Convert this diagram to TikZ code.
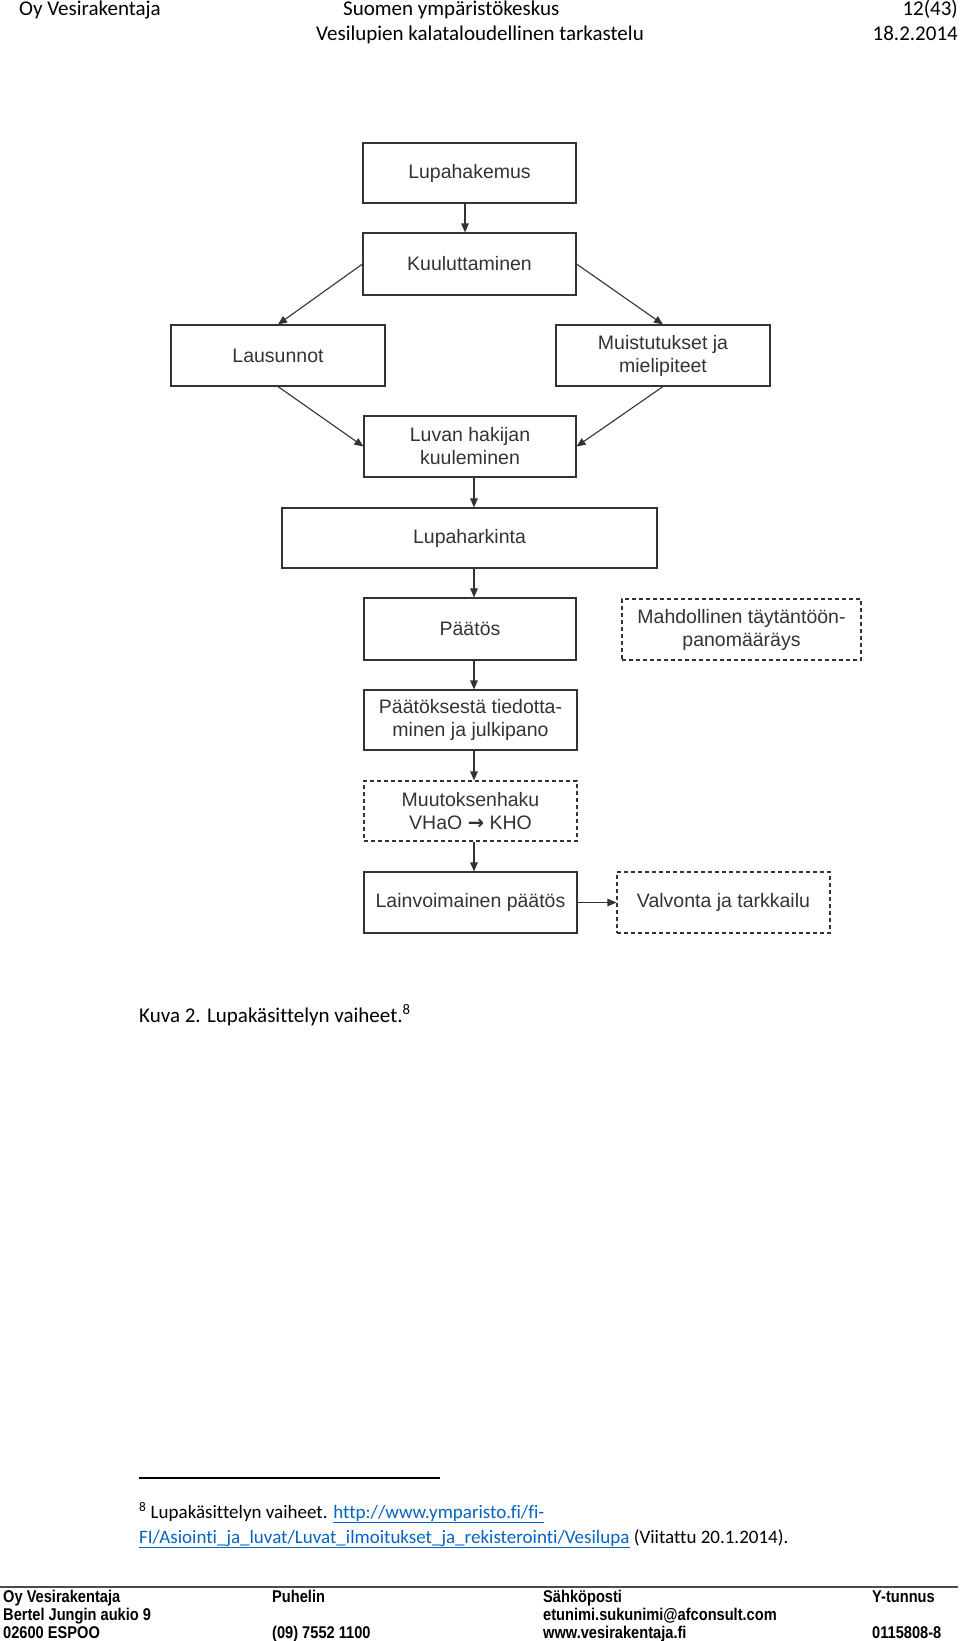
\documentclass[tikz,border=0pt]{standalone}
\usepackage{fontspec}
\setmainfont[Ligatures=NoCommon]{Carlito}
\newfontfamily\boxfont{Liberation Sans}
\newfontfamily\footfont[FakeStretch=0.86]{Liberation Sans}
\newfontfamily\symfont{DejaVu Sans}
\usetikzlibrary{arrows.meta}
\definecolor{linkblue}{HTML}{0563C1}
\definecolor{boxgray}{HTML}{333333}
\begin{document}
\begin{tikzpicture}[x=1pt,y=-1pt,
  stepbox/.style={draw=boxgray, line width=1.1pt, inner sep=0pt, align=center,
    text=boxgray, font=\boxfont\fontsize{19.5}{23}\selectfont},
  dbox/.style={stepbox, dash pattern=on 4pt off 3pt},
  conn/.style={draw=boxgray, line width=1.1pt, -{Triangle[length=9pt,width=7.5pt]}},
  hdr/.style={inner sep=0pt, font=\fontsize{21}{25}\selectfont},
  ftr/.style={inner sep=0pt, anchor=base west, font=\footfont\bfseries\fontsize{17}{19}\selectfont}
]
\useasboundingbox (0,0) rectangle (960,1641);

% header
\node[hdr, anchor=base west] (h1) at (19,15) {Oy Vesirakentaja};
\node[hdr, anchor=base west] (h2) at (343,15) {Suomen ympäristökeskus};
\node[hdr, anchor=base east] (h3) at (958,15) {12(43)};
\node[hdr, anchor=base west] (h4) at (316,40) {Vesilupien kalataloudellinen tarkastelu};
\node[hdr, anchor=base east] (h5) at (958,40) {18.2.2014};

% diagram boxes
\node[stepbox, minimum width=213pt, minimum height=60pt] (lh) at (469.5,173) {Lupahakemus};
\node[stepbox, minimum width=213pt, minimum height=62pt] (ku) at (469.5,264) {Kuuluttaminen};
\node[stepbox, minimum width=214pt, minimum height=61pt] (la) at (278,355.5) {Lausunnot};
\node[stepbox, minimum width=214pt, minimum height=61pt] (mu) at (663,355.5) {Muistutukset ja\\mielipiteet};
\node[stepbox, minimum width=212pt, minimum height=61pt] (lv) at (470,446.5) {Luvan hakijan\\kuuleminen};
\node[stepbox, minimum width=375pt, minimum height=60pt] (lk) at (469.5,538) {Lupaharkinta};
\node[stepbox, minimum width=212pt, minimum height=62pt] (pa) at (470,629) {Päätös};
\node[dbox, minimum width=239pt, minimum height=61pt] (md) at (741.5,629.5) {Mahdollinen täytäntöön-\\panomääräys};
\node[stepbox, minimum width=213pt, minimum height=60pt] (pt) at (470.5,720) {Päätöksestä tiedotta-\\minen ja julkipano};
\node[dbox, minimum width=213pt, minimum height=60pt] (mh) at (470.5,811) {Muutoksenhaku\\VHaO {\symfont\bfseries →} KHO};
\node[stepbox, minimum width=213pt, minimum height=61pt] (lp) at (470.5,902.5) {Lainvoimainen päätös};
\node[dbox, minimum width=213pt, minimum height=61pt] (vv) at (723.5,902.5) {Valvonta ja tarkkailu};

% vertical axes of the straight connectors
\coordinate (ax1) at (465,0);
\coordinate (ax2) at (474,0);

% connectors
\draw[conn] (lh.south -| ax1) -- (ku.north -| ax1);
\draw[conn] (ku.west) -- (la.north);
\draw[conn] (ku.east) -- (mu.north);
\draw[conn] (la.south) -- (lv.west);
\draw[conn] (mu.south) -- (lv.east);
\draw[conn] (lv.south -| ax2) -- (lk.north -| ax2);
\draw[conn] (lk.south -| ax2) -- (pa.north -| ax2);
\draw[conn] (pa.south -| ax2) -- (pt.north -| ax2);
\draw[conn] (pt.south -| ax2) -- (mh.north -| ax2);
\draw[conn] (mh.south -| ax2) -- (lp.north -| ax2);
\draw[conn] (lp.east) -- (vv.west);

% caption
\node[hdr, anchor=base west] (cap) at (139,1022) {Kuva 2. Lupakäsittelyn vaiheet.\textsuperscript{8}};

% footnote
\coordinate (fr1) at (139,1478);
\coordinate (fr2) at (440,1478);
\draw[line width=1.2pt] (fr1) -- (fr2);
\node[inner sep=0pt, anchor=base west, font=\fontsize{19}{23}\selectfont] (fn1) at (139,1518)
  {\textsuperscript{8} Lupakäsittelyn vaiheet. {\color{linkblue}\underline{http://www.ymparisto.fi/fi-}}};
\node[inner sep=0pt, anchor=base west, font=\fontsize{19}{23}\selectfont] (fn2) at (139,1543)
  {{\color{linkblue}\underline{FI/Asiointi\_ja\_luvat/Luvat\_ilmoitukset\_ja\_rekisterointi/Vesilupa}} (Viitattu 20.1.2014).};

% footer
\coordinate (ff1) at (0,1587);
\coordinate (ff2) at (958,1587);
\draw[line width=1.2pt, black!70] (ff1) -- (ff2);
\node[ftr] (f11) at (3,1602) {Oy Vesirakentaja};
\node[ftr] (f12) at (3,1620) {Bertel Jungin aukio 9};
\node[ftr] (f13) at (3,1638) {02600 ESPOO};
\node[ftr] (f21) at (272,1602) {Puhelin};
\node[ftr] (f23) at (272,1638) {(09) 7552 1100};
\node[ftr] (f31) at (543,1602) {Sähköposti};
\node[ftr] (f32) at (543,1620) {etunimi.sukunimi@afconsult.com};
\node[ftr] (f33) at (543,1638) {www.vesirakentaja.fi};
\node[ftr] (f41) at (872,1602) {Y-tunnus};
\node[ftr] (f43) at (872,1638) {0115808-8};
\end{tikzpicture}
\end{document}
